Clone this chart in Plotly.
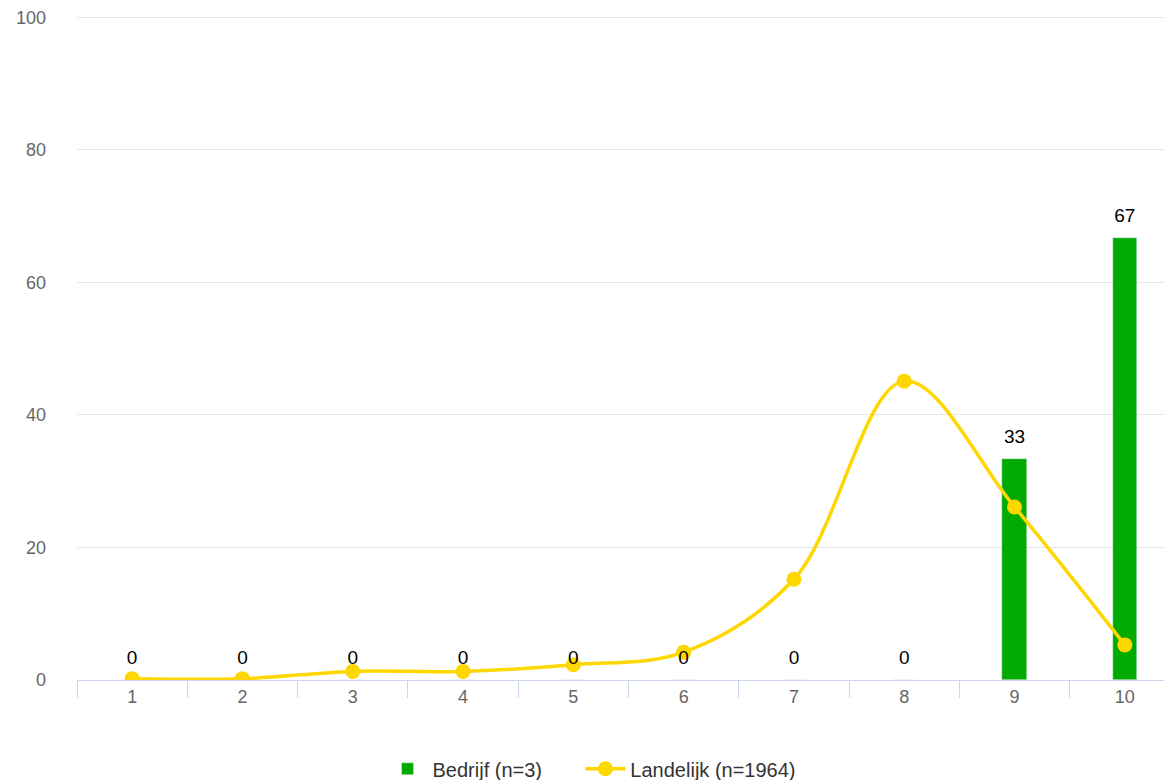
import plotly.graph_objects as go

# scores 1..10
categories = ["1", "2", "3", "4", "5", "6", "7", "8", "9", "10"]
bedrijf = [0, 0, 0, 0, 0, 0, 0, 0, 33.33, 66.67]
landelijk = [0.2, 0.2, 1.3, 1.3, 2.3, 4.2, 15.2, 45.1, 26.1, 5.3]
bedrijf_labels = ["0", "0", "0", "0", "0", "0", "0", "0", "33", "67"]

GREEN = "#00aa00"
YELLOW = "#ffd700"
FONT = "Arial, Liberation Sans, sans-serif"

fig = go.Figure()

fig.add_trace(
    go.Bar(
        x=categories,
        y=bedrijf,
        # padding spaces keep the two legend entries apart like the original
        name="Bedrijf (n=3)" + "\u00a0" * 6,
        marker_color=GREEN,
        width=0.22,
        hoverinfo="skip",
    )
)

fig.add_trace(
    go.Scatter(
        x=categories,
        y=landelijk,
        name="Landelijk (n=1964)",
        mode="lines+markers",
        line=dict(color=YELLOW, width=3.5, shape="spline", smoothing=1.0),
        marker=dict(color=YELLOW, size=15),
    )
)

# value labels above the bars
fig.add_trace(
    go.Scatter(
        x=categories,
        y=bedrijf,
        mode="markers+text",
        text=bedrijf_labels,
        textposition="top center",
        textfont=dict(family=FONT, size=19, color="#000000"),
        marker=dict(size=16, opacity=0),
        showlegend=False,
        hoverinfo="skip",
        cliponaxis=False,
    )
)

fig.update_layout(
    width=1172,
    height=780,
    margin=dict(l=69, r=0, t=6, b=108, autoexpand=False),
    paper_bgcolor="white",
    plot_bgcolor="white",
    font=dict(family=FONT, size=18, color="#666666"),
    bargap=0,
    showlegend=True,
    legend=dict(
        orientation="h",
        x=0.277,
        xanchor="left",
        y=-0.104,
        yanchor="top",
        font=dict(size=20, color="#333333"),
        itemwidth=40,
    ),
    xaxis=dict(
        type="category",
        range=[-0.5, 9.5],
        tickson="boundaries",
        ticks="outside",
        ticklen=17,
        tickcolor="#ccd6eb",
        showline=True,
        linecolor="#ccd6eb",
        linewidth=1,
        showgrid=False,
        zeroline=False,
        automargin=False,
        tickfont=dict(size=18, color="#666666"),
    ),
    yaxis=dict(
        range=[0, 100.5],
        dtick=20,
        showgrid=True,
        gridcolor="#e6e6e6",
        gridwidth=1,
        zeroline=False,
        showline=False,
        ticks="",
        ticklabelstandoff=30,
        ticklabeloverflow="allow",
        automargin=False,
        tickfont=dict(size=18, color="#666666"),
    ),
)

fig.write_html("out.html")
